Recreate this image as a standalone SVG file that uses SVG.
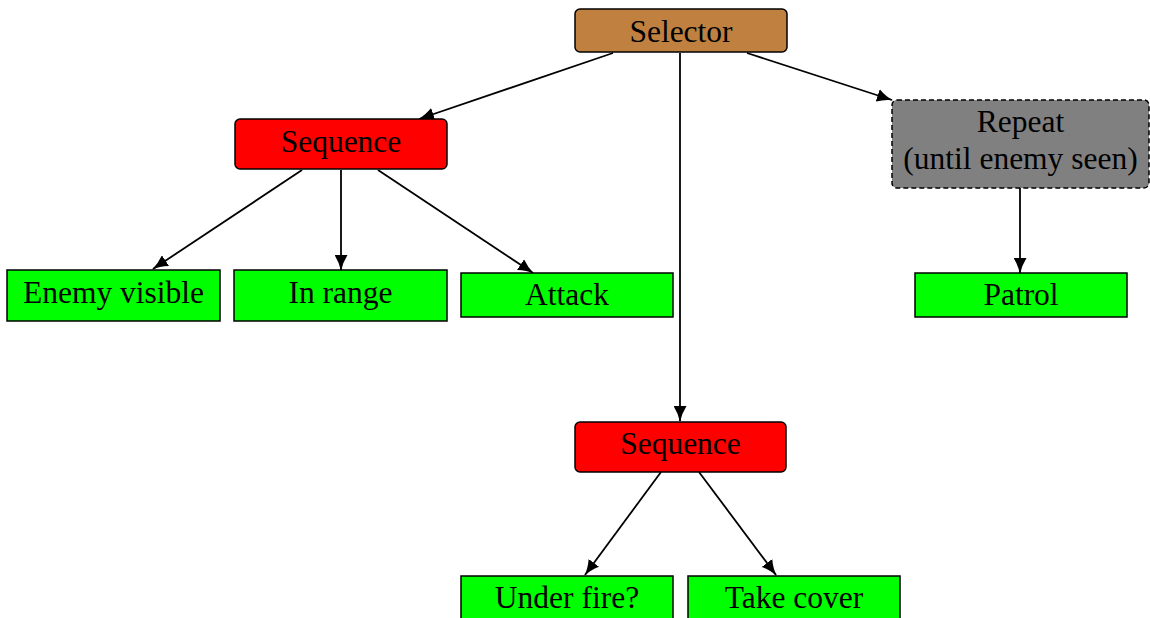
<svg xmlns="http://www.w3.org/2000/svg" width="1150" height="618" viewBox="0 0 1150 618">
<style>
  text { font-family: "Liberation Serif", "Times New Roman", serif; font-size: 31.5px; fill: #000; text-anchor: middle; }
  .box { stroke: #000; stroke-width: 1.5; }
  .sel { fill: #BF8040; }
  .seq { fill: #FF0000; }
  .act { fill: #00FF00; }
  .rep { fill: #808080; stroke-dasharray: 5 3; }
  .edge { stroke: #000; stroke-width: 1.8; fill: none; marker-end: url(#arr); }
</style>
<defs>
  <marker id="arr" viewBox="0 0 16 13" refX="15" refY="6.5" markerWidth="16" markerHeight="13" markerUnits="userSpaceOnUse" orient="auto">
    <path d="M0,0 Q8,5 16,6.5 Q8,8 0,13 Z" fill="#000"/>
  </marker>
</defs>
<g id="connectors">
  <line class="edge" x1="613" y1="53" x2="419" y2="119"/>
  <line class="edge" x1="747" y1="53" x2="892" y2="100"/>
  <line class="edge" x1="680" y1="53" x2="680" y2="421"/>
  <line class="edge" x1="302" y1="170" x2="153" y2="269"/>
  <line class="edge" x1="341" y1="170" x2="341" y2="270"/>
  <line class="edge" x1="378" y1="170" x2="533" y2="273"/>
  <line class="edge" x1="1020" y1="188" x2="1020" y2="273"/>
  <line class="edge" x1="661" y1="472" x2="585" y2="575"/>
  <line class="edge" x1="699" y1="472" x2="776" y2="575"/>
</g>
<g id="selector">
  <rect class="box sel" x="575" y="9" width="212" height="43" rx="5"/>
  <text x="681" y="42">Selector</text>
</g>
<g id="sequence1">
  <rect class="box seq" x="235" y="119" width="212" height="50" rx="5"/>
  <text x="341" y="152">Sequence</text>
</g>
<g id="repeat">
  <rect class="box rep" x="892" y="100" width="257" height="88" rx="5"/>
  <text x="1020.5" y="132">Repeat</text>
  <text x="1020.5" y="169">(until enemy seen)</text>
</g>
<g id="enemy-visible">
  <rect class="box act" x="7" y="270" width="213" height="51"/>
  <text x="113.5" y="303">Enemy visible</text>
</g>
<g id="in-range">
  <rect class="box act" x="234" y="270" width="213" height="51"/>
  <text x="340.5" y="303">In range</text>
</g>
<g id="attack">
  <rect class="box act" x="461" y="273" width="212" height="44"/>
  <text x="567" y="305">Attack</text>
</g>
<g id="patrol">
  <rect class="box act" x="915" y="273" width="212" height="44"/>
  <text x="1021" y="305">Patrol</text>
</g>
<g id="sequence2">
  <rect class="box seq" x="575" y="422" width="211" height="50" rx="5"/>
  <text x="680.5" y="454">Sequence</text>
</g>
<g id="under-fire">
  <rect class="box act" x="461" y="576" width="212" height="50"/>
  <text x="567" y="608">Under fire?</text>
</g>
<g id="take-cover">
  <rect class="box act" x="688" y="576" width="212" height="50"/>
  <text x="794" y="608">Take cover</text>
</g>
</svg>
